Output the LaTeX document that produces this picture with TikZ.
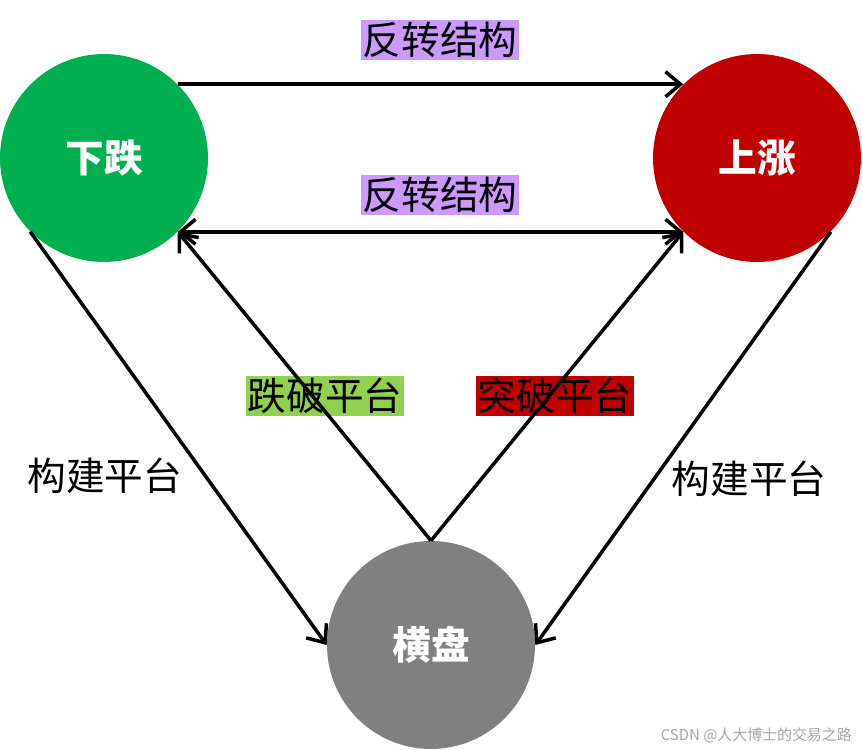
\documentclass[tikz,border=0pt]{standalone}
\usepackage{fontspec}
\setmainfont{Noto Sans CJK SC}
\usepackage{xcolor}
\usetikzlibrary{positioning, arrows.meta, calc}

\definecolor{fallgreen}{HTML}{00B050}
\definecolor{risered}{HTML}{C00000}
\definecolor{flatgray}{HTML}{808080}
\definecolor{revpurple}{HTML}{CC99FF}
\definecolor{breakgreen}{HTML}{92D050}

\begin{document}
\begin{tikzpicture}[
    x=0.02cm, y=-0.02cm,
    >={Straight Barb[length=3mm, width=5mm, line width=2pt]},
    state/.style={circle, minimum size=4.16cm, inner sep=0pt, text=white,
                  font=\fontsize{22}{26}\selectfont\bfseries},
    lab/.style={inner sep=1pt, font=\fontsize{22}{26}\selectfont},
    link/.style={line width=2pt},
]
  \useasboundingbox (0,0) rectangle (863,750);
  % States
  \node[state, fill=fallgreen] (down) at (104,158) {下跌};
  \node[state, fill=risered] (up) at (757,158) {上涨};
  \node[state, fill=flatgray] (flat) at (431,645) {横盘};
  % Labels
  \node[lab, fill=revpurple] (rev1) at (440,40) {反转结构};
  \node[lab, fill=revpurple] (rev2) at (440,195) {反转结构};
  \node[lab, fill=breakgreen] (brkdown) at (325,396) {跌破平台};
  \node[lab, fill=risered] (brkup) at (555,396) {突破平台};
  \node[lab] (build1) at (105,476) {构建平台};
  \node[lab] (build2) at (749,479) {构建平台};
  % Watermark
  \node[text=black!35, font=\fontsize{8.5}{10}\selectfont, anchor=east] (mark) at (858,735) {CSDN @人大博士的交易之路};
  % Transitions
  \draw[link,->] (down.45) -- (up.135);
  \draw[link,<->] (down.-45) -- (up.-135);
  \draw[link,->] (down.-135) -- (flat.west);
  \draw[link,->] (up.-45) -- (flat.east);
  \draw[link,->] (flat.north) -- (down.-45);
  \draw[link,->] (flat.north) -- (up.-135);
\end{tikzpicture}
\end{document}
